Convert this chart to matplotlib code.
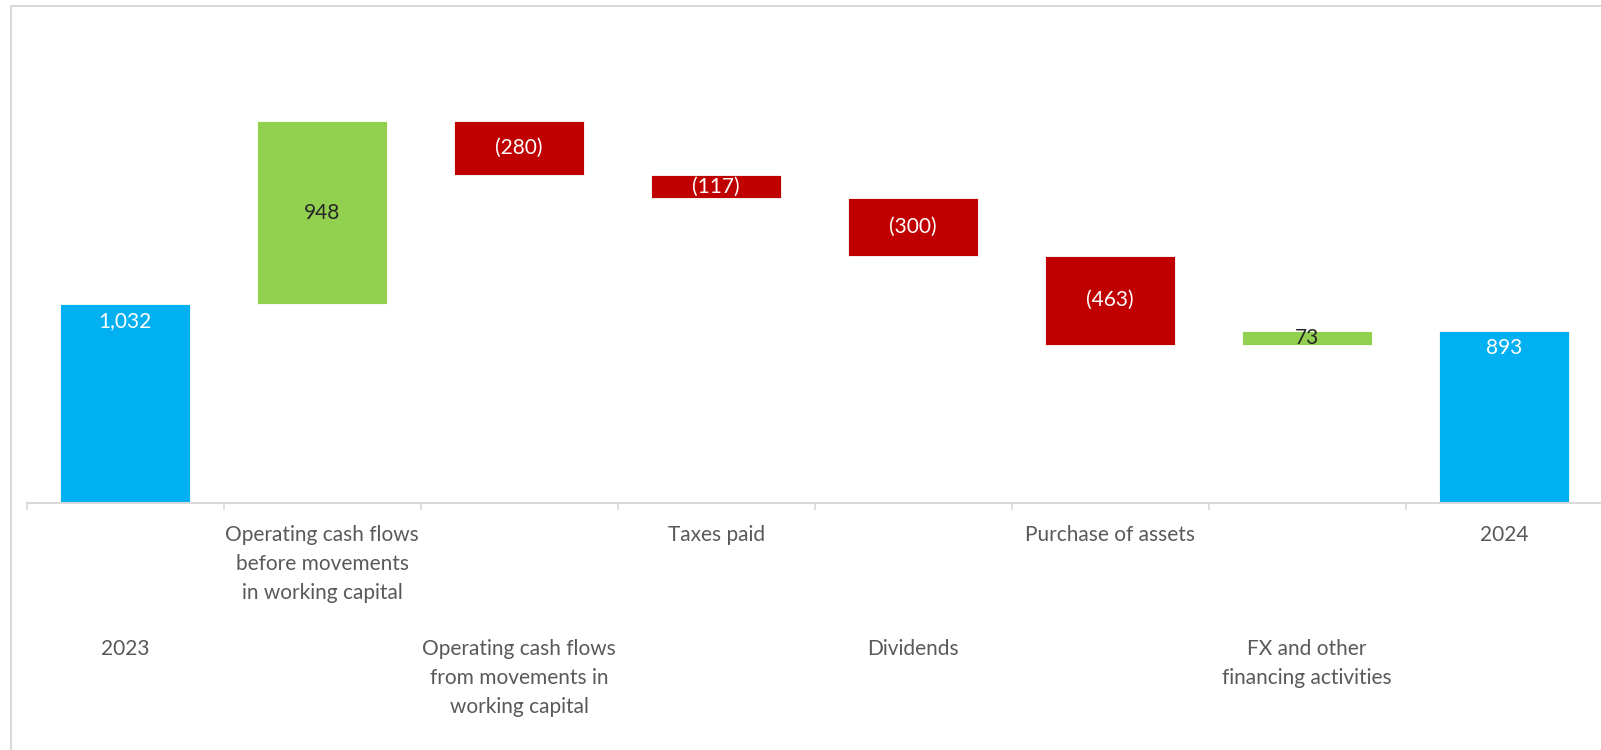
import matplotlib
matplotlib.use("Agg")
import matplotlib.pyplot as plt
from matplotlib.patches import Rectangle
from matplotlib.transforms import blended_transform_factory

plt.rcParams['font.family'] = ['Lato', 'DejaVu Sans']

categories = [
    "2023",
    "Operating cash flows\nbefore movements\nin working capital",
    "Operating cash flows\nfrom movements in\nworking capital",
    "Taxes paid",
    "Dividends",
    "Purchase of assets",
    "FX and other\nfinancing activities",
    "2024",
]
# change per step; totals are marked separately
values = [1032, 948, -280, -117, -300, -463, 73, 893]
is_total = [True, False, False, False, False, False, False, True]

BLUE = "#00B0F0"
GREEN = "#92D050"
RED = "#C00000"
GRID = "#D9D9D9"
TEXT = "#595959"

W, H = 1601, 750
fig = plt.figure(figsize=(W / 100, H / 100), dpi=100)

# outer frame of the chart area
fig.patches.append(Rectangle((11 / W, -0.1), 1.2, (750 - 6) / H + 0.1,
                             transform=fig.transFigure, fill=False,
                             edgecolor=GRID, linewidth=1.5))

ax_left, ax_right = 26.6 / W, 1602.6 / W
ax_bottom, ax_top = (H - 503) / H, (H - 21) / H
ax = fig.add_axes([ax_left, ax_bottom, ax_right - ax_left, ax_top - ax_bottom])

running = 0
bottoms, heights, colors = [], [], []
for v, tot in zip(values, is_total):
    if tot:
        bottoms.append(0)
        heights.append(v)
        colors.append(BLUE)
        running = v
    else:
        if v >= 0:
            bottoms.append(running)
            heights.append(v)
            colors.append(GREEN)
        else:
            bottoms.append(running + v)
            heights.append(-v)
            colors.append(RED)
        running += v

x = list(range(len(values)))
ax.bar(x, heights, bottom=bottoms, width=0.66, color=colors,
       edgecolor="white", linewidth=0.6, zorder=2)

for xi, v, b, h, c, tot in zip(x, values, bottoms, heights, colors, is_total):
    label = f"{v:,}" if v >= 0 else f"({-v:,})"
    if tot:
        ax.annotate(label, (xi, b + h), xytext=(0, -5), textcoords="offset points",
                    ha="center", va="top", color="white", fontsize=15, zorder=3)
    else:
        txt_color = "#262626" if c == GREEN else "white"
        ax.text(xi, b + h / 2, label, ha="center", va="center",
                color=txt_color, fontsize=15, zorder=3)

ax.set_xlim(-0.5, len(values) - 0.5)
ax.set_ylim(0, 2500)

for s in ["top", "right", "left"]:
    ax.spines[s].set_visible(False)
ax.spines["bottom"].set_color(GRID)
ax.spines["bottom"].set_linewidth(1.5)
ax.set_yticks([])
ax.set_xticks([i - 0.5 for i in range(len(values) + 1)])
ax.set_xticklabels([])
ax.tick_params(axis="x", length=5, width=1.2, color=GRID)

trans = blended_transform_factory(ax.transData, ax.transAxes)
for i, name in enumerate(categories):
    offset = -16 if i % 2 == 1 else -98
    ax.annotate(name, (i, 0), xycoords=trans, xytext=(0, offset),
                textcoords="offset points", ha="center", va="top",
                color=TEXT, fontsize=15, linespacing=1.55,
                annotation_clip=False)

fig.savefig("out.png", dpi=100, facecolor="white")
